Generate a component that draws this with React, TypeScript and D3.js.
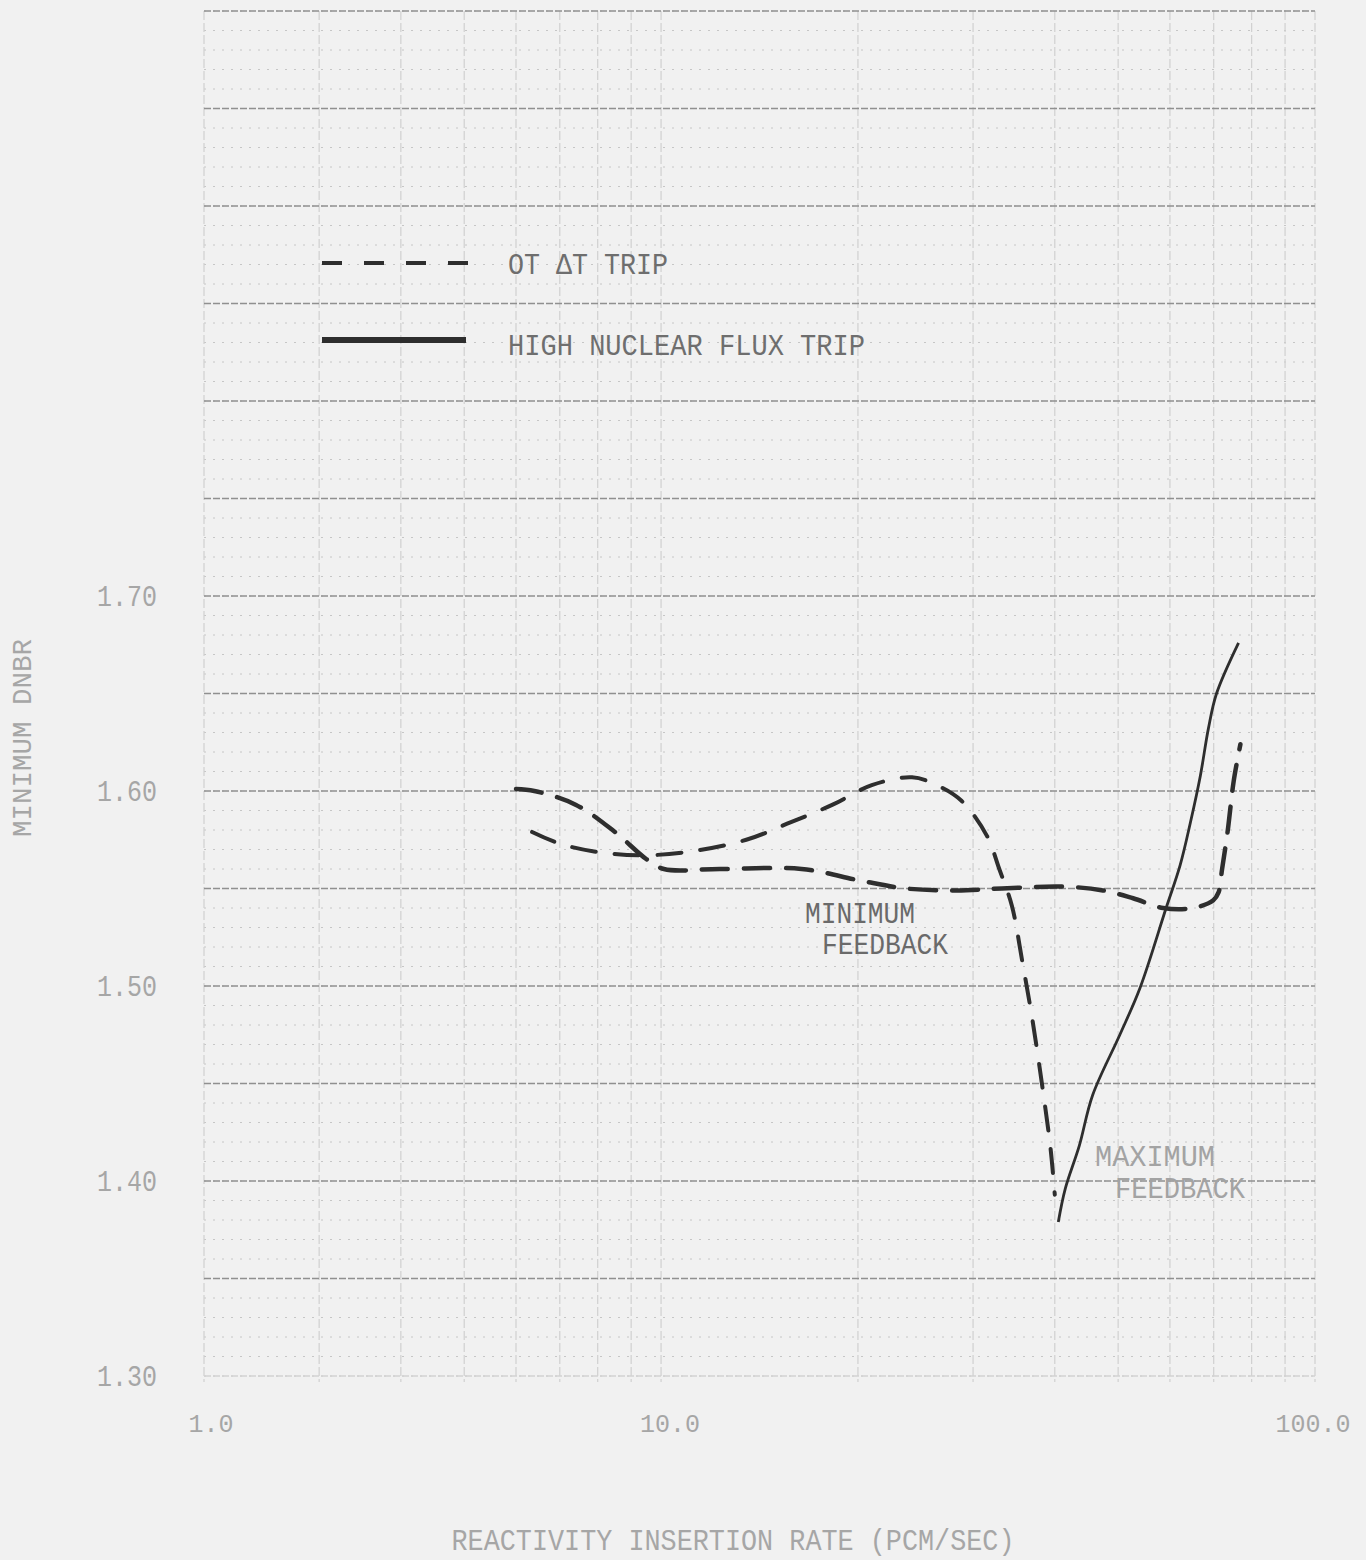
import React from 'react';
import * as d3 from 'd3';

// (x = pcm/sec, y = minimum DNBR)
const flatX = [6.0, 6.4, 7.4, 8.5, 9.5, 10.1, 12.3, 16.4, 20.2, 23.7, 28.3, 33.2, 41.1, 47.4, 52.7, 58.6, 65.1, 69.9, 71.2, 72.1, 73.5, 75.1, 76.9];
const flatY = [1.601, 1.600, 1.593, 1.579, 1.565, 1.560, 1.560, 1.560, 1.554, 1.550, 1.549, 1.550, 1.551, 1.549, 1.545, 1.540, 1.540, 1.544, 1.548, 1.560, 1.579, 1.605, 1.624];

const humpX = [6.35, 7.0, 7.9, 9.3, 11.1, 13.5, 15.8, 18.3, 21.0, 24.2, 26.4, 28.8, 31.5, 32.9, 34.4, 35.7, 37.0, 38.3, 39.4, 40.0];
const humpY = [1.579, 1.573, 1.569, 1.567, 1.569, 1.575, 1.584, 1.593, 1.603, 1.607, 1.603, 1.595, 1.577, 1.560, 1.541, 1.512, 1.482, 1.448, 1.417, 1.393];

const solidX = [40.5, 41.5, 43.6, 45.7, 50.3, 54.0, 59.2, 62.2, 64.5, 66.8, 68.7, 70.7, 76.4];
const solidY = [1.379, 1.396, 1.418, 1.444, 1.475, 1.499, 1.540, 1.562, 1.584, 1.608, 1.632, 1.650, 1.676];

const xTickValues = [2, 10, 100];
const xTickLabels = ['1.0', '10.0', '100.0'];
const yTickValues = [1.3, 1.4, 1.5, 1.6, 1.7];
const yTickLabels = ['1.30', '1.40', '1.50', '1.60', '1.70'];
const xGridValues = [2, 3, 4, 5, 6, 7, 8, 9, 10, 20, 30, 40, 50, 60, 70, 80, 90, 100];

const FONT = '"Liberation Mono", "DejaVu Sans Mono", monospace';
const INK = '#2e2e2e';

export default function App() {
  const x = d3.scaleLog().domain([2, 100]).range([204, 1315]);
  const y = d3.scaleLinear().domain([1.3, 2.0]).range([1376, 11]);

  const line = d3
    .line<[number, number]>()
    .x((d) => x(d[0]))
    .y((d) => y(d[1]))
    .curve(d3.curveCatmullRom.alpha(0.5));

  const zip = (xs: number[], ys: number[]) => xs.map((v, i) => [v, ys[i]] as [number, number]);

  const major = d3.range(0, 15).map((i) => 1.3 + i * 0.05);
  const minor = d3.range(0, 71).map((i) => 1.3 + i * 0.01);
  const xTickShift = [7, 9, -2];

  return (
    <svg
      width={1366}
      height={1560}
      style={{ position: 'absolute', left: 0, top: 0 }}
      fontFamily={FONT}
    >
      <rect width={1366} height={1560} fill="#f1f1f1" />

      {/* graph paper */}
      <g>
        {minor.map((v, i) => (
          <line key={'mn' + i} x1={x(2)} x2={x(100)} y1={y(v)} y2={y(v)}
            stroke="#c6c6c6" strokeWidth={1} strokeDasharray="2 7" />
        ))}
        {xGridValues.map((v, i) => (
          <line key={'vx' + i} x1={x(v)} x2={x(v)} y1={y(2.0)} y2={y(1.3) + 6}
            stroke="#d0d0d0" strokeWidth={1.2} strokeDasharray="9 3" />
        ))}
        {major.map((v, i) => (
          <line key={'mj' + i} x1={x(2)} x2={x(100)} y1={y(v)} y2={y(v)}
            stroke={i === 0 ? '#d2d2d2' : '#909090'} strokeWidth={1.6} strokeDasharray="7 2" />
        ))}
      </g>

      {/* axis labels */}
      <g fill="#a6a6a6" fontSize={29}>
        {yTickValues.map((v, i) => (
          <text key={'yt' + i} x={157} y={y(v) + 10} textAnchor="end"
            textLength={60} lengthAdjust="spacingAndGlyphs">
            {yTickLabels[i]}
          </text>
        ))}
        {xTickValues.map((v, i) => (
          <text key={'xt' + i} x={x(v) + xTickShift[i]} y={1432} textAnchor="middle" fontSize={25}>
            {xTickLabels[i]}
          </text>
        ))}
        <text x={733} y={1550} textAnchor="middle" textLength={563} lengthAdjust="spacingAndGlyphs" fontSize={29}>
          REACTIVITY INSERTION RATE (PCM/SEC)
        </text>
        <text transform="translate(31,738) rotate(-90)" textAnchor="middle" textLength={198}
          lengthAdjust="spacingAndGlyphs" fontSize={27}>
          MINIMUM DNBR
        </text>
      </g>

      {/* legend */}
      <line x1={322} x2={473} y1={263} y2={263} stroke={INK} strokeWidth={4} strokeDasharray="20 22" />
      <line x1={322} x2={466} y1={340} y2={340} stroke={INK} strokeWidth={6} />
      <g fill="#6e6e6e" fontSize={30}>
        <text x={508} y={274} textLength={160} lengthAdjust="spacingAndGlyphs">OT ΔT TRIP</text>
        <text x={508} y={355} textLength={357} lengthAdjust="spacingAndGlyphs">HIGH NUCLEAR FLUX TRIP</text>
      </g>

      {/* curves */}
      <path d={line(zip(flatX, flatY)) || ''} fill="none" stroke={INK} strokeWidth={4.5}
        strokeDasharray="26 16" strokeLinecap="round" />
      <path d={line(zip(humpX, humpY)) || ''} fill="none" stroke={INK} strokeWidth={4}
        strokeDasharray="24 19" strokeLinecap="round" />
      <path d={line(zip(solidX, solidY)) || ''} fill="none" stroke={INK} strokeWidth={2.8} />

      {/* annotations */}
      <g fill="#6a6a6a" fontSize={29}>
        <text x={805} y={923} textLength={110} lengthAdjust="spacingAndGlyphs">MINIMUM</text>
        <text x={822} y={954} textLength={126} lengthAdjust="spacingAndGlyphs">FEEDBACK</text>
      </g>
      <g fill="#a3a3a3" fontSize={29}>
        <text x={1095} y={1166} textLength={120} lengthAdjust="spacingAndGlyphs">MAXIMUM</text>
        <text x={1115} y={1198} textLength={130} lengthAdjust="spacingAndGlyphs">FEEDBACK</text>
      </g>
    </svg>
  );
}
